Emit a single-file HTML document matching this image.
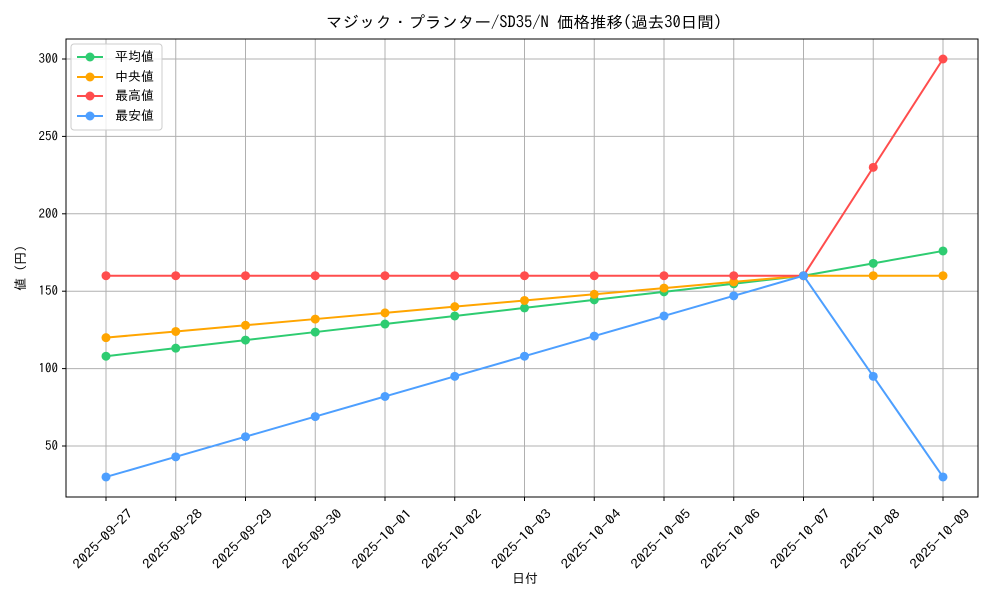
<!DOCTYPE html>
<html><head><meta charset="utf-8"><style>
body{margin:0;background:#fff}
svg text{font-family:"IPAGothic","Noto Sans CJK JP",sans-serif;fill:#000}
</style></head><body>
<svg width="1000" height="600" xmlns="http://www.w3.org/2000/svg">
<rect width="1000" height="600" fill="#fff"/>
<text x="524" y="28" font-size="16" text-anchor="middle" textLength="396" lengthAdjust="spacingAndGlyphs">マジック・プランター/SD35/N 価格推移(過去30日間)</text>
<g id="grid" stroke="#b0b0b0" stroke-width="1">
</g>
<g id="plot"></g>
<rect x="66" y="39" width="912" height="458" fill="none" stroke="#000" stroke-width="1"/>
<text x="525" y="583" font-size="13" text-anchor="middle">日付</text>
<text transform="translate(25,268) rotate(-90)" font-size="13" text-anchor="middle">値 (円)</text>
<g>
<rect x="71" y="44" width="91" height="86" fill="#fff" fill-opacity="0.8" stroke="#ccc" rx="3"/>
<line x1="77" y1="57" x2="103" y2="57" stroke="#2ecc71" stroke-width="2"/><circle cx="90" cy="57" r="4.5" fill="#2ecc71"/><text x="115" y="61" font-size="13">平均値</text>
<line x1="77" y1="77" x2="103" y2="77" stroke="#ffa500" stroke-width="2"/><circle cx="90" cy="77" r="4.5" fill="#ffa500"/><text x="115" y="81" font-size="13">中央値</text>
<line x1="77" y1="96" x2="103" y2="96" stroke="#ff4d4d" stroke-width="2"/><circle cx="90" cy="96" r="4.5" fill="#ff4d4d"/><text x="115" y="100" font-size="13">最高値</text>
<line x1="77" y1="116" x2="103" y2="116" stroke="#4d9fff" stroke-width="2"/><circle cx="90" cy="116" r="4.5" fill="#4d9fff"/><text x="115" y="120" font-size="13">最安値</text>
</g>
</svg>
<script>
const NS="http://www.w3.org/2000/svg";
const svg=document.querySelector('svg');
const grid=document.getElementById('grid'),plot=document.getElementById('plot');
const X=i=>106+i*69.75, Y=v=>446-(v-50)*1.548;
function el(t,a,p){const e=document.createElementNS(NS,t);for(const k in a)e.setAttribute(k,a[k]);(p||svg).appendChild(e);return e;}
const dates=["2025-09-27","2025-09-28","2025-09-29","2025-09-30","2025-10-01","2025-10-02","2025-10-03","2025-10-04","2025-10-05","2025-10-06","2025-10-07","2025-10-08","2025-10-09"];
dates.forEach((d,i)=>{const x=X(i);
el('line',{x1:x,y1:39,x2:x,y2:497},grid);
el('line',{x1:x,y1:497,x2:x,y2:501,stroke:'#000'});
const t=el('text',{transform:`translate(${x},${542}) rotate(-45)`,'font-size':13,'text-anchor':'middle',textLength:78,lengthAdjust:'spacingAndGlyphs'});t.textContent=d;});
[50,100,150,200,250,300].forEach(v=>{const y=Y(v);
el('line',{x1:66,y1:y,x2:978,y2:y},grid);
el('line',{x1:62,y1:y,x2:66,y2:y,stroke:'#000'});
const t=el('text',{x:58,y:y+4,'font-size':13,'text-anchor':'end'});t.textContent=v;});
const S=[
["#2ecc71",[108,113.2,118.4,123.6,128.8,134,139.2,144.4,149.6,154.8,160,168,176]],
["#ffa500",[120,124,128,132,136,140,144,148,152,156,160,160,160]],
["#ff4d4d",[160,160,160,160,160,160,160,160,160,160,160,230,300]],
["#4d9fff",[30,43,56,69,82,95,108,121,134,147,160,95,30]]];
S.forEach(([c,d])=>{el('polyline',{points:d.map((v,i)=>X(i)+','+Y(v)).join(' '),fill:'none',stroke:c,'stroke-width':2},plot);
d.forEach((v,i)=>el('circle',{cx:X(i),cy:Y(v),r:4.5,fill:c},plot));});
</script>
</body></html>
